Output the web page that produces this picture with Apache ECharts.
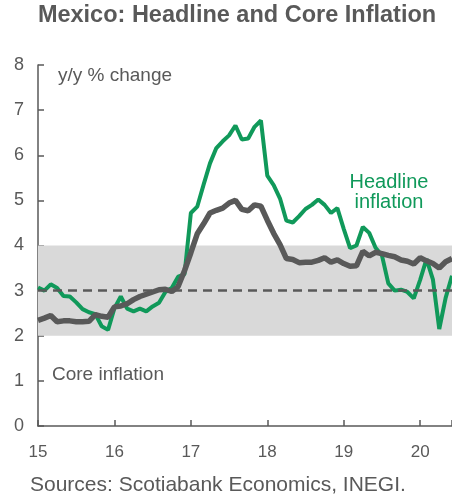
<!DOCTYPE html>
<html>
<head>
<meta charset="utf-8">
<script src="https://cdn.jsdelivr.net/npm/echarts@6/dist/echarts.min.js"></script>
<style>
  html, body { margin: 0; padding: 0; background: #fff; }
  #chart { width: 452px; height: 499px; }
</style>
</head>
<body>
<div id="chart"></div>
<script>
// monthly, Jan 2015 .. Jun 2020
const yearLabels = ['15', '16', '17', '18', '19', '20']

const headline = [
  3.07, 3.00, 3.14, 3.06, 2.88, 2.87, 2.74, 2.59, 2.52, 2.48, 2.21, 2.13,
  2.61, 2.87, 2.60, 2.54, 2.60, 2.54, 2.65, 2.73, 2.97, 3.06, 3.31, 3.36,
  4.72, 4.86, 5.35, 5.82, 6.16, 6.31, 6.44, 6.66, 6.35, 6.37, 6.63, 6.77,
  5.55, 5.34, 5.04, 4.55, 4.51, 4.65, 4.81, 4.90, 5.02, 4.90, 4.72, 4.83,
  4.37, 3.94, 4.00, 4.41, 4.28, 3.95, 3.78, 3.16, 3.00, 3.02, 2.97, 2.83,
  3.24, 3.70, 3.25, 2.15, 2.84, 3.33
]

const core = [
  2.34, 2.39, 2.45, 2.31, 2.33, 2.33, 2.31, 2.31, 2.32, 2.47, 2.43, 2.41,
  2.64, 2.66, 2.71, 2.80, 2.87, 2.92, 2.97, 3.02, 3.03, 2.98, 3.09, 3.44,
  3.84, 4.26, 4.48, 4.72, 4.78, 4.83, 4.94, 5.00, 4.80, 4.77, 4.90, 4.87,
  4.56, 4.27, 4.02, 3.71, 3.69, 3.62, 3.63, 3.63, 3.67, 3.73, 3.63, 3.68,
  3.60, 3.54, 3.55, 3.87, 3.77, 3.85, 3.82, 3.78, 3.75, 3.68, 3.65, 3.59,
  3.73, 3.66, 3.60, 3.50, 3.64, 3.71
]

const target = 3
const bandLow = 2
const bandHigh = 4

const GREY = '#595959'
const GREEN = '#10995a'
const FONT = 'Liberation Sans, Arial, sans-serif'

const chart = echarts.init(document.getElementById('chart'))

chart.setOption({
  animation: false,
  backgroundColor: '#fff',
  textStyle: { fontFamily: FONT },
  grid: { left: 38, right: 0, top: 65, bottom: 73, outerBoundsMode: 'none', containLabel: false },
  xAxis: {
    type: 'value',
    min: 0,
    max: headline.length - 1,
    interval: 12,
    axisLine: { lineStyle: { color: GREY, width: 1.5 } },
    axisTick: { inside: true, length: 6, lineStyle: { color: GREY, width: 1.5 } },
    axisLabel: {
      color: GREY, fontSize: 17, margin: 18,
      formatter: v => yearLabels[v / 12] || ''
    },
    splitLine: { show: false }
  },
  yAxis: {
    type: 'value',
    min: 0,
    max: 8,
    interval: 1,
    axisLine: { show: true, lineStyle: { color: GREY, width: 1.5 } },
    axisTick: { show: true, inside: true, length: 6, lineStyle: { color: GREY, width: 1.5 } },
    axisLabel: { color: GREY, fontSize: 18, margin: 14 },
    splitLine: { show: false }
  },
  series: [
    {
      name: 'band',
      type: 'line',
      data: [],
      silent: true,
      markArea: {
        silent: true,
        itemStyle: { color: '#d9d9d9' },
        data: [[{ yAxis: bandLow }, { yAxis: bandHigh }]]
      },
      markLine: {
        silent: true,
        symbol: 'none',
        label: { show: false },
        lineStyle: { color: GREY, type: [9, 6], width: 2.5 },
        data: [{ yAxis: target }]
      }
    },
    {
      name: 'Headline',
      type: 'line',
      data: headline.map((v, i) => [i, v]),
      showSymbol: false,
      lineStyle: { color: GREEN, width: 4 },
      z: 3
    },
    {
      name: 'Core',
      type: 'line',
      data: core.map((v, i) => [i, v]),
      showSymbol: false,
      lineStyle: { color: GREY, width: 5.5 },
      z: 4
    }
  ],
  graphic: [
    { type: 'text', x: 237, y: 4, style: { text: 'Mexico: Headline and Core Inflation', fill: GREY, align: 'center', font: 'bold 23.5px ' + FONT } },
    { type: 'text', x: 58, y: 66, style: { text: 'y/y % change', fill: GREY, font: '19px ' + FONT } },
    { type: 'text', x: 52, y: 365, style: { text: 'Core inflation', fill: GREY, font: '19px ' + FONT } },
    { type: 'text', x: 389, y: 172, style: { text: 'Headline\ninflation', lineHeight: 20, align: 'center', fill: GREEN, font: '20px ' + FONT } },
    { type: 'text', x: 30, y: 475, style: { text: 'Sources: Scotiabank Economics, INEGI.', fill: GREY, font: '21px ' + FONT } }
  ]
})
</script>
</body>
</html>
